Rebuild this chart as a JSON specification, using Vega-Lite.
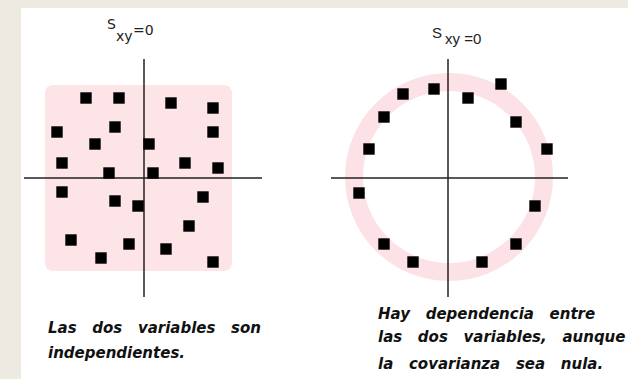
{
  "$schema": "https://vega.github.io/schema/vega-lite/v6.json",
  "background": "#ECEAE1",
  "padding": {"left": 21, "top": 8, "right": 0, "bottom": 0},
  "autosize": {"type": "pad"},
  "spacing": 0,
  "config": {"view": {"fill": "white", "stroke": null}},
  "datasets": {
    "independent": [
      {"x": -58, "y": 80}, {"x": -25, "y": 80}, {"x": 27, "y": 75}, {"x": 69, "y": 70},
      {"x": -87, "y": 46}, {"x": -29, "y": 51}, {"x": 69, "y": 46}, {"x": -49, "y": 34},
      {"x": 5, "y": 34}, {"x": -82, "y": 15}, {"x": 41, "y": 15}, {"x": 74, "y": 10},
      {"x": -35, "y": 5}, {"x": 9, "y": 5}, {"x": -82, "y": -14}, {"x": 59, "y": -19},
      {"x": -29, "y": -23}, {"x": -6, "y": -28}, {"x": 45, "y": -48}, {"x": -73, "y": -62},
      {"x": -15, "y": -66}, {"x": 22, "y": -71}, {"x": -43, "y": -80}, {"x": 69, "y": -84}
    ],
    "circular": [
      {"x": -45, "y": 84}, {"x": -14, "y": 89}, {"x": 20, "y": 80}, {"x": 53, "y": 94},
      {"x": -64, "y": 61}, {"x": 68, "y": 56}, {"x": -79, "y": 29}, {"x": 99, "y": 29},
      {"x": -89, "y": -15}, {"x": 87, "y": -28}, {"x": -64, "y": -66}, {"x": 68, "y": -66},
      {"x": -35, "y": -84}, {"x": 34, "y": -84}
    ],
    "axesLeft": [
      {"x": -120, "x2": 118, "y": 0, "y2": 0},
      {"x": 0, "x2": 0, "y": 119, "y2": -119}
    ],
    "axesRight": [
      {"x": -117, "x2": 120, "y": 0, "y2": 0},
      {"x": 0, "x2": 0, "y": 119, "y2": -119}
    ],
    "region": [{"x": -99, "x2": 88, "y": 93, "y2": -93}],
    "ring": [{"x": 1, "y": 1}],
    "titles": [
      {"panel": "left", "label": "S", "x": -37, "y": 149},
      {"panel": "left", "label": "xy", "x": -28, "y": 137},
      {"panel": "left", "label": "=0", "x": -11, "y": 143},
      {"panel": "right", "label": "S", "x": -16, "y": 140},
      {"panel": "right", "label": "xy =0", "x": -3, "y": 134}
    ],
    "captions": [
      {"panel": "left", "line": "Las\u00a0\u00a0\u00a0dos\u00a0\u00a0\u00a0variables\u00a0\u00a0\u00a0son", "x": -96, "y": -155},
      {"panel": "left", "line": "independientes.", "x": -96, "y": -180},
      {"panel": "right", "line": "Hay\u00a0\u00a0\u00a0dependencia\u00a0\u00a0\u00a0entre", "x": -70, "y": -141},
      {"panel": "right", "line": "las\u00a0\u00a0\u00a0dos\u00a0\u00a0\u00a0variables,\u00a0\u00a0\u00a0aunque", "x": -70, "y": -164},
      {"panel": "right", "line": "la\u00a0\u00a0\u00a0covarianza\u00a0\u00a0\u00a0sea\u00a0\u00a0\u00a0nula.", "x": -70, "y": -191}
    ]
  },
  "hconcat": [
    {
      "width": 275,
      "height": 371,
      "encoding": {
        "x": {"field": "x", "type": "quantitative", "scale": {"domain": [-123, 152], "nice": false, "zero": false}, "axis": null},
        "y": {"field": "y", "type": "quantitative", "scale": {"domain": [-201, 170], "nice": false, "zero": false}, "axis": null}
      },
      "layer": [
        {
          "data": {"name": "region"},
          "mark": {"type": "rect", "color": "#FCE4E7", "cornerRadius": 8},
          "encoding": {"x2": {"field": "x2"}, "y2": {"field": "y2"}}
        },
        {
          "data": {"name": "axesLeft"},
          "mark": {"type": "rule", "color": "#222222", "strokeWidth": 1.5},
          "encoding": {"x2": {"field": "x2"}, "y2": {"field": "y2"}}
        },
        {
          "data": {"name": "independent"},
          "mark": {"type": "point", "shape": "square", "filled": true, "color": "#000000", "size": 130, "opacity": 1}
        },
        {
          "data": {"name": "titles"},
          "transform": [{"filter": "datum.panel === 'left'"}],
          "mark": {"type": "text", "align": "left", "baseline": "alphabetic", "font": "DejaVu Sans", "fontSize": 14, "color": "#222222"},
          "encoding": {"text": {"field": "label"}}
        },
        {
          "data": {"name": "captions"},
          "transform": [{"filter": "datum.panel === 'left'"}],
          "mark": {"type": "text", "align": "left", "baseline": "alphabetic", "font": "DejaVu Sans", "fontSize": 15, "fontWeight": "bold", "fontStyle": "italic", "color": "#111111"},
          "encoding": {"text": {"field": "line"}}
        }
      ]
    },
    {
      "width": 332,
      "height": 371,
      "encoding": {
        "x": {"field": "x", "type": "quantitative", "scale": {"domain": [-152, 180], "nice": false, "zero": false}, "axis": null},
        "y": {"field": "y", "type": "quantitative", "scale": {"domain": [-201, 170], "nice": false, "zero": false}, "axis": null}
      },
      "layer": [
        {
          "data": {"name": "ring"},
          "mark": {"type": "point", "shape": "circle", "filled": false, "color": "#FCE2E6", "strokeWidth": 18, "size": 36100, "opacity": 1}
        },
        {
          "data": {"name": "axesRight"},
          "mark": {"type": "rule", "color": "#222222", "strokeWidth": 1.5},
          "encoding": {"x2": {"field": "x2"}, "y2": {"field": "y2"}}
        },
        {
          "data": {"name": "circular"},
          "mark": {"type": "point", "shape": "square", "filled": true, "color": "#000000", "size": 130, "opacity": 1}
        },
        {
          "data": {"name": "titles"},
          "transform": [{"filter": "datum.panel === 'right'"}],
          "mark": {"type": "text", "align": "left", "baseline": "alphabetic", "font": "Liberation Sans", "fontSize": 15, "color": "#222222"},
          "encoding": {"text": {"field": "label"}}
        },
        {
          "data": {"name": "captions"},
          "transform": [{"filter": "datum.panel === 'right'"}],
          "mark": {"type": "text", "align": "left", "baseline": "alphabetic", "font": "DejaVu Sans", "fontSize": 15, "fontWeight": "bold", "fontStyle": "italic", "color": "#111111"},
          "encoding": {"text": {"field": "line"}}
        }
      ]
    }
  ]
}
